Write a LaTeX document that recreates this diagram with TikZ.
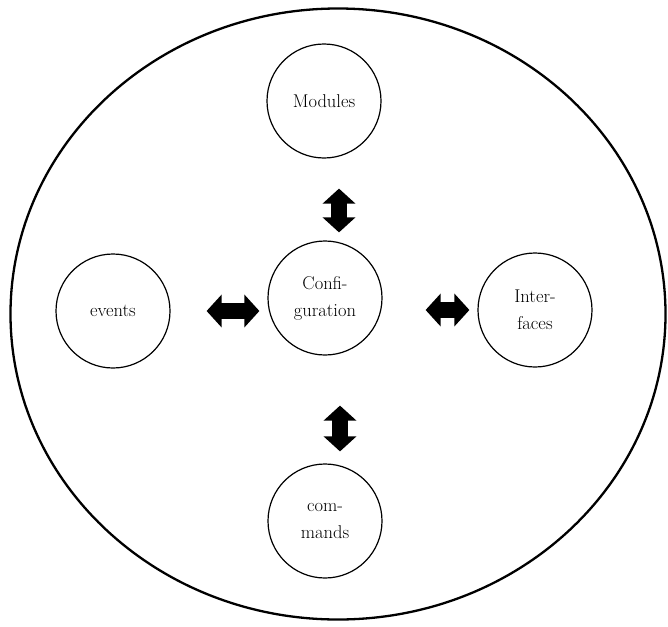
\documentclass[tikz,border=0pt]{standalone}
\usetikzlibrary{arrows.meta,shapes.geometric}
\tikzset{
  unit/.style={circle, draw, line width=1.2pt, minimum size=114pt, inner sep=0pt,
    align=center, font=\fontsize{18.5}{27}\selectfont},
  dbl/.style={line width=16pt,
    {Triangle[length=15pt,width=32pt]}-{Triangle[length=15pt,width=32pt]}},
}
\begin{document}
\begin{tikzpicture}[x=1pt,y=-1pt]
\useasboundingbox (0,0) rectangle (668,626);
\node[ellipse, draw, line width=2.3pt, minimum width=655pt, minimum height=611pt, inner sep=0pt] (outer) at (338,314) {};
\node[unit] (mo) at (324,101) {Modules};
\node[unit] (cf) at (325,298) {Confi-\\guration};
\node[unit] (ev) at (113,311) {events};
\node[unit] (in) at (535,310) {Inter-\\faces};
\node[unit] (co) at (325,521) {com-\\mands};
\draw[dbl, shorten <=36pt, shorten >=8pt] (ev.east) -- (ev.east -| cf.west);
\draw[dbl, shorten <=43pt, shorten >=8pt] (cf.east |- in.west) -- (in.west);
\draw[dbl, shorten <=30pt, shorten >=8pt] ([xshift=15pt]mo.south) -- ([xshift=15pt]mo.south |- cf.north);
\draw[dbl, shorten <=50pt, shorten >=12pt] ([xshift=15pt]cf.south) -- ([xshift=15pt]cf.south |- co.north);
\end{tikzpicture}
\end{document}
